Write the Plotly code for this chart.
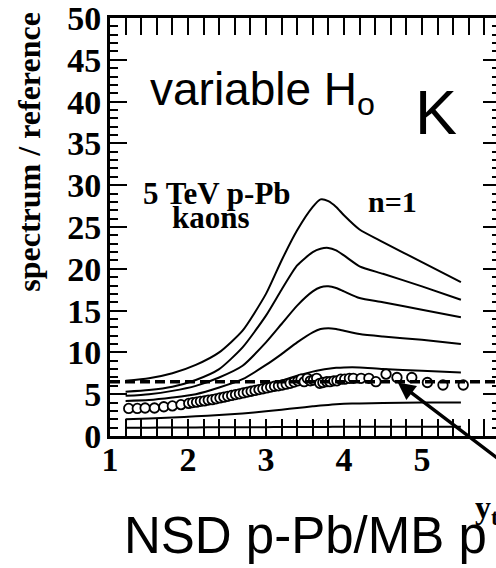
import plotly.graph_objects as go

# ---------------- data ----------------
x_model = [1.2, 1.5, 1.8, 2.1, 2.4, 2.7, 3.0, 3.2, 3.4, 3.6, 3.7, 3.8, 3.9, 4.0, 4.2, 4.5, 5.0, 5.5]
curve_a = [6.6, 6.9, 7.5, 8.5, 10.0, 12.6, 17.0, 21.0, 24.6, 27.4, 28.3, 28.1, 27.4, 26.4, 24.7, 23.2, 20.8, 18.4]
curve_b = [5.3, 5.5, 5.9, 6.7, 8.0, 10.6, 14.4, 17.5, 20.4, 22.0, 22.4, 22.5, 22.2, 21.6, 20.3, 19.4, 17.9, 16.3]
curve_c = [4.8, 5.0, 5.4, 6.0, 7.0, 8.4, 11.2, 13.4, 15.6, 17.3, 17.8, 17.9, 17.7, 17.3, 16.5, 16.0, 15.1, 14.2]
curve_d = [4.2, 4.3, 4.6, 5.0, 5.8, 6.8, 8.5, 9.8, 11.2, 12.4, 12.8, 12.9, 12.8, 12.6, 12.2, 11.9, 11.5, 11.0]
curve_e = [3.0, 3.2, 3.5, 3.9, 4.5, 5.2, 6.0, 6.6, 7.2, 7.7, 7.9, 8.05, 8.15, 8.2, 8.2, 8.0, 7.8, 7.6]
curve_f = [2.0, 2.1, 2.2, 2.35, 2.5, 2.7, 2.95, 3.15, 3.35, 3.55, 3.65, 3.72, 3.8, 3.85, 3.9, 3.95, 4.0, 4.0]
curve_g = [1.0, 1.0, 1.02, 1.03, 1.04, 1.05, 1.06, 1.07, 1.08, 1.08, 1.09, 1.09, 1.1, 1.1, 1.1, 1.1, 1.1, 1.1]
model_curves = [curve_a, curve_b, curve_c, curve_d, curve_e, curve_f, curve_g]

data_x = [1.24, 1.35, 1.45, 1.57, 1.69, 1.80, 1.91, 2.01, 2.06, 2.11, 2.16, 2.21, 2.26, 2.31,
          2.36, 2.41, 2.46, 2.51, 2.56, 2.61, 2.66, 2.71, 2.76, 2.81, 2.86, 2.91, 2.96, 3.01,
          3.06, 3.11, 3.16, 3.21, 3.26, 3.31, 3.36, 3.41, 3.45, 3.49, 3.53, 3.57, 3.61, 3.65,
          3.69, 3.73, 3.78, 3.82, 3.87, 3.91, 3.96, 4.01, 4.07, 4.12, 4.22, 4.32, 4.41, 4.54,
          4.68, 4.87, 5.07, 5.27, 5.53]
data_y = [3.3, 3.3, 3.35, 3.35, 3.5, 3.6, 3.75, 3.9, 4.0, 4.05, 4.15, 4.2, 4.3, 4.35,
          4.45, 4.55, 4.65, 4.75, 4.85, 4.95, 5.05, 5.15, 5.25, 5.35, 5.45, 5.55, 5.65, 5.75,
          5.85, 5.95, 6.0, 6.1, 6.2, 6.3, 6.45, 6.6, 6.8, 6.5, 6.9, 6.6, 6.7, 6.9,
          6.3, 6.4, 6.5, 6.5, 6.6, 6.6, 6.8, 6.8, 6.9, 6.9, 6.9, 6.9, 6.5, 7.4,
          7.0, 7.0, 6.4, 6.1, 6.1]

ref_level = 6.5
arrow_head = (4.69, 6.41)
arrow_tail = (6.13, -3.8)

x_range = [1, 5.95]
y_range = [0, 50]
x_ticks = [1, 2, 3, 4, 5]
y_ticks = [0, 5, 10, 15, 20, 25, 30, 35, 40, 45, 50]

# ---------------- figure ----------------
fig = go.Figure()

for cy in model_curves:
    fig.add_trace(go.Scatter(x=x_model, y=cy, mode="lines",
                             line=dict(color="black", width=2, shape="spline", smoothing=0.6),
                             showlegend=False, hoverinfo="skip"))

fig.add_hline(y=ref_level, line=dict(color="black", width=3.5, dash="10px,5px"))

fig.add_trace(go.Scatter(x=data_x, y=data_y, mode="markers",
                         marker=dict(symbol="circle", size=9.5, color="white",
                                     line=dict(color="black", width=1.8)),
                         showlegend=False, hoverinfo="skip"))

# invisible trace for the right-hand tick axis
fig.add_trace(go.Scatter(x=[None], y=[None], yaxis="y2", showlegend=False))

serif_bold = dict(family="Liberation Serif", size=34, color="black", weight="bold")

fig.update_layout(
    width=496, height=568,
    margin=dict(l=110, r=0, t=15, b=132),
    paper_bgcolor="white", plot_bgcolor="white",
    xaxis=dict(range=x_range, tickmode="array", tickvals=x_ticks, ticktext=[str(v) for v in x_ticks],
               ticks="inside", ticklen=17, tickwidth=2, tickcolor="black",
               showline=True, linewidth=3, linecolor="black", mirror="allticks",
               showgrid=False, zeroline=False, tickfont=serif_bold, ticklabelstandoff=-9,
               ticklabeloverflow="allow",
               minor=dict(dtick=0.2, tick0=1, ticklen=8, tickwidth=1.5, ticks="inside",
                          tickcolor="black", showgrid=False)),
    yaxis=dict(range=y_range, tickmode="array", tickvals=y_ticks, ticktext=[str(v) for v in y_ticks],
               ticks="inside", ticklen=17, tickwidth=2, tickcolor="black",
               showline=True, linewidth=3, linecolor="black", mirror=False,
               showgrid=False, zeroline=False, tickfont=serif_bold, ticklabelstandoff=-1,
               ticklabeloverflow="allow",
               minor=dict(dtick=1, tick0=0, ticklen=8, tickwidth=1.5, ticks="inside",
                          tickcolor="black", showgrid=False)),
    yaxis2=dict(range=y_range, overlaying="y", side="right", anchor="x",
                tickmode="array", tickvals=y_ticks, showticklabels=False,
                ticks="inside", ticklen=13, tickwidth=2, tickcolor="black",
                showline=False, showgrid=False, zeroline=False,
                minor=dict(dtick=1, tick0=0, ticklen=4, tickwidth=1.5, ticks="inside",
                           tickcolor="black", showgrid=False)),
)

fig.add_annotation(x=arrow_head[0], y=arrow_head[1], ax=arrow_tail[0], ay=arrow_tail[1],
                   xref="x", yref="y", axref="x", ayref="y", text="",
                   showarrow=True, arrowhead=2, arrowsize=1, arrowwidth=3.5, arrowcolor="black")

sans = "Liberation Sans"
annots = [
    dict(text="variable H<sub>o</sub>", x=0.098, y=0.822, xanchor="left", yanchor="middle",
         font=dict(family=sans, size=46, color="black")),
    dict(text="K", x=0.845, y=0.774, xanchor="center", yanchor="middle",
         font=dict(family=sans, size=63, color="black")),
    dict(text="5 TeV p-Pb", x=0.277, y=0.580, xanchor="center", yanchor="middle",
         font=dict(family="Liberation Serif", size=31, color="black", weight="bold")),
    dict(text="kaons", x=0.262, y=0.5226, xanchor="center", yanchor="middle",
         font=dict(family="Liberation Serif", size=31, color="black", weight="bold")),
    dict(text="n=1", x=0.731, y=0.561, xanchor="center", yanchor="middle",
         font=dict(family="Liberation Serif", size=30, color="black", weight="bold")),
    dict(text="y<sub>t</sub>", x=0.94, y=-0.176, xanchor="left", yanchor="middle",
         font=dict(family="Liberation Serif", size=32, color="black", weight="bold")),
    dict(text="NSD p-Pb/MB p", x=0.030, y=-0.2375, xanchor="left", yanchor="middle",
         font=dict(family=sans, size=51, color="black")),
    dict(text="spectrum / reference", x=-0.21, y=0.68, xanchor="center", yanchor="middle",
         textangle=-90, font=dict(family="Liberation Serif", size=32, color="black", weight="bold")),
]
for a in annots:
    fig.add_annotation(xref="paper", yref="paper", showarrow=False, **a)

fig.write_html("out.html")
